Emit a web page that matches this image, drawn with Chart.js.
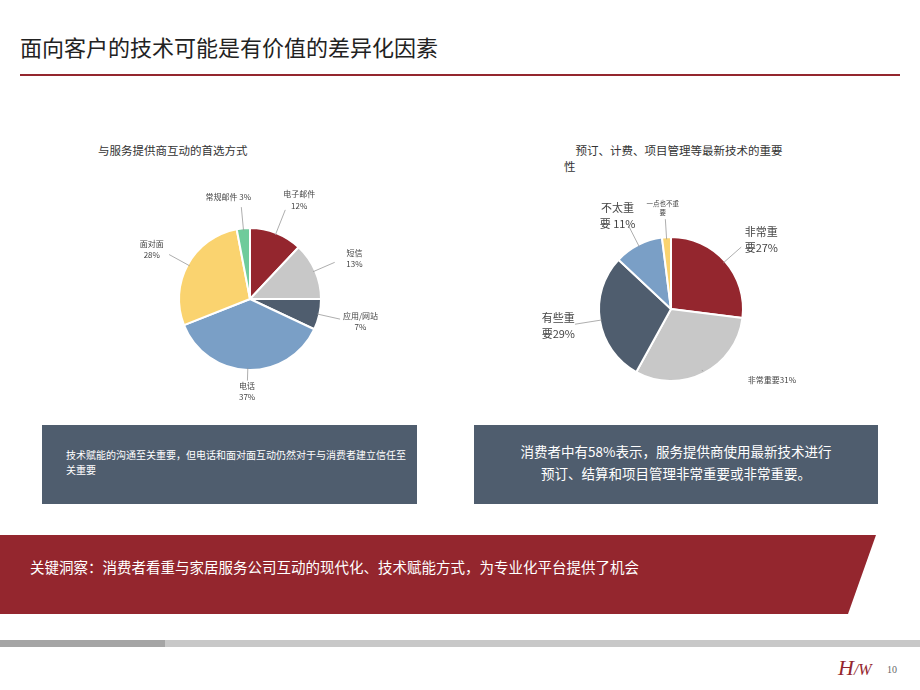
<!DOCTYPE html>
<html><head><meta charset="utf-8">
<script src="https://cdn.jsdelivr.net/npm/chart.js@4/dist/chart.umd.min.js"></script>
<style>
body{margin:0;width:920px;height:690px;position:relative;background:#fff;font-family:"Noto Sans CJK SC",sans-serif;overflow:hidden}
.a{position:absolute}
canvas{position:absolute}
</style></head><body>
<div class="a" style="left:20px;top:30px;font-size:22px;color:#222">面向客户的技术可能是有价值的差异化因素</div>
<div class="a" style="left:20px;top:74px;width:880px;height:2px;background:#94262e"></div>
<div class="a" style="left:98px;top:142px;font-size:11.5px;color:#333">与服务提供商互动的首选方式</div>
<div class="a" style="left:564px;top:142px;font-size:11.5px;color:#333;line-height:16px">　预订、计费、项目管理等最新技术的重要<br>性</div>
<canvas id="c1" width="300" height="240" style="left:100px;top:180px"></canvas>
<canvas id="c2" width="300" height="260" style="left:521px;top:170px"></canvas>
<div class="a" style="left:42px;top:425px;width:375px;height:79px;background:#4f5d6e"></div>
<div class="a" style="left:66px;top:447px;width:340px;font-size:10px;color:#fff;line-height:15px">技术赋能的沟通至关重要，但电话和面对面互动仍然对于与消费者建立信任至关重要</div>
<div class="a" style="left:474px;top:425px;width:404px;height:79px;background:#4f5d6e"></div>
<div class="a" style="left:474px;top:440px;width:404px;text-align:center;font-size:13.5px;color:#fff;line-height:22px">消费者中有58%表示，服务提供商使用最新技术进行<br>预订、结算和项目管理非常重要或非常重要。</div>
<svg class="a" style="left:0;top:535px" width="920" height="80"><polygon points="0,0 876,0 848,79 0,79" fill="#94262e"/></svg>
<div class="a" style="left:30px;top:556px;font-size:14.5px;color:#fff">关键洞察：消费者看重与家居服务公司互动的现代化、技术赋能方式，为专业化平台提供了机会</div>
<div class="a" style="left:0;top:640px;width:920px;height:7px;background:#c8c8c8"></div>
<div class="a" style="left:0;top:640px;width:165px;height:7px;background:#a5a5a5"></div>
<div class="a" style="left:838px;top:655px;font-family:'Liberation Serif',serif;font-size:22px;color:#94262e;font-style:italic">H<span style="font-size:16px">/W</span></div>
<div class="a" style="left:887px;top:664px;font-family:'Liberation Serif',serif;font-size:10px;color:#666">10</div>
<script>
const labels1=["电子邮件","短信","应用/网站","电话","面对面","常规邮件"];
const values1=[12,13,7,37,28,3];
const text1=[["电子邮件","12%"],["短信","13%"],["应用/网站","7%"],["电话","37%"],["面对面","28%"],["常规邮件 3%"]];
const colors1=["#94262e","#c8c8c8","#4f5d6e","#7a9fc6","#fad36f","#6fcb9b"];
const labels2=["非常重要","非常重要","有些重要","不太重要","一点也不重要"];
const values2=[27,31,29,11,2];
const text2=[["非常重","要27%"],["非常重要31%"],["有些重","要29%"],["不太重","要 11%"],["一点也不重","要"]];
const colors2=["#94262e","#c8c8c8","#4f5d6e","#7a9fc6","#fad36f"];

function labelPlugin(texts,fs,dist,shift){return{id:'lbl',afterDatasetsDraw(ch){
 const c=ch.ctx;const meta=ch.getDatasetMeta(0);
 c.save();c.fillStyle='#444';c.strokeStyle='#999';c.lineWidth=0.8;
 meta.data.forEach((arc,i)=>{
  const a=(arc.startAngle+arc.endAngle)/2,r=arc.outerRadius,x0=arc.x,y0=arc.y;
  const d=dist[i],fsz=fs[i]||fs[0];c.font=fsz+'px "Noto Sans CJK SC"';
  const p1=[x0+Math.cos(a)*r*0.97,y0+Math.sin(a)*r*0.97];
  const p2=[x0+Math.cos(a)*r*(d-0.15),y0+Math.sin(a)*r*(d-0.15)];
  c.beginPath();c.moveTo(p1[0],p1[1]);c.lineTo(p2[0],p2[1]);c.stroke();
  const tx=x0+Math.cos(a)*r*d+(shift[i]||0),ty=y0+Math.sin(a)*r*d;
  const lines=texts[i];const lh=fsz*1.4;
  c.textAlign='center';c.textBaseline='middle';
  lines.forEach((t,k)=>c.fillText(t,tx,ty+(k-(lines.length-1)/2)*lh));
 });c.restore();}}}

function mk(id,vals,cols,labs,texts,fs,dist,shift,pad){
 new Chart(document.getElementById(id),{type:'pie',
  data:{labels:labs,datasets:[{data:vals,backgroundColor:cols,borderColor:'#fff',borderWidth:2}]},
  options:{responsive:false,animation:false,layout:{padding:pad},
   plugins:{legend:{display:false},tooltip:{enabled:false}}},
  plugins:[labelPlugin(texts,fs,dist,shift)]});
}
mk('c1',values1,colors1,labels1,text1,[8],[1.5,1.45,1.45,1.3,1.45,1.45],[10,10,10,0,-8,-12],{top:47,bottom:49,left:78,right:78});
mk('c2',values2,colors2,labels2,text2,[11,8,11,11,6.5],[1.45,1.1,1.5,1.45,1.4],[12,65,-6,-6,-2],{top:66,bottom:48,left:77,right:77});
</script>
</body></html>
